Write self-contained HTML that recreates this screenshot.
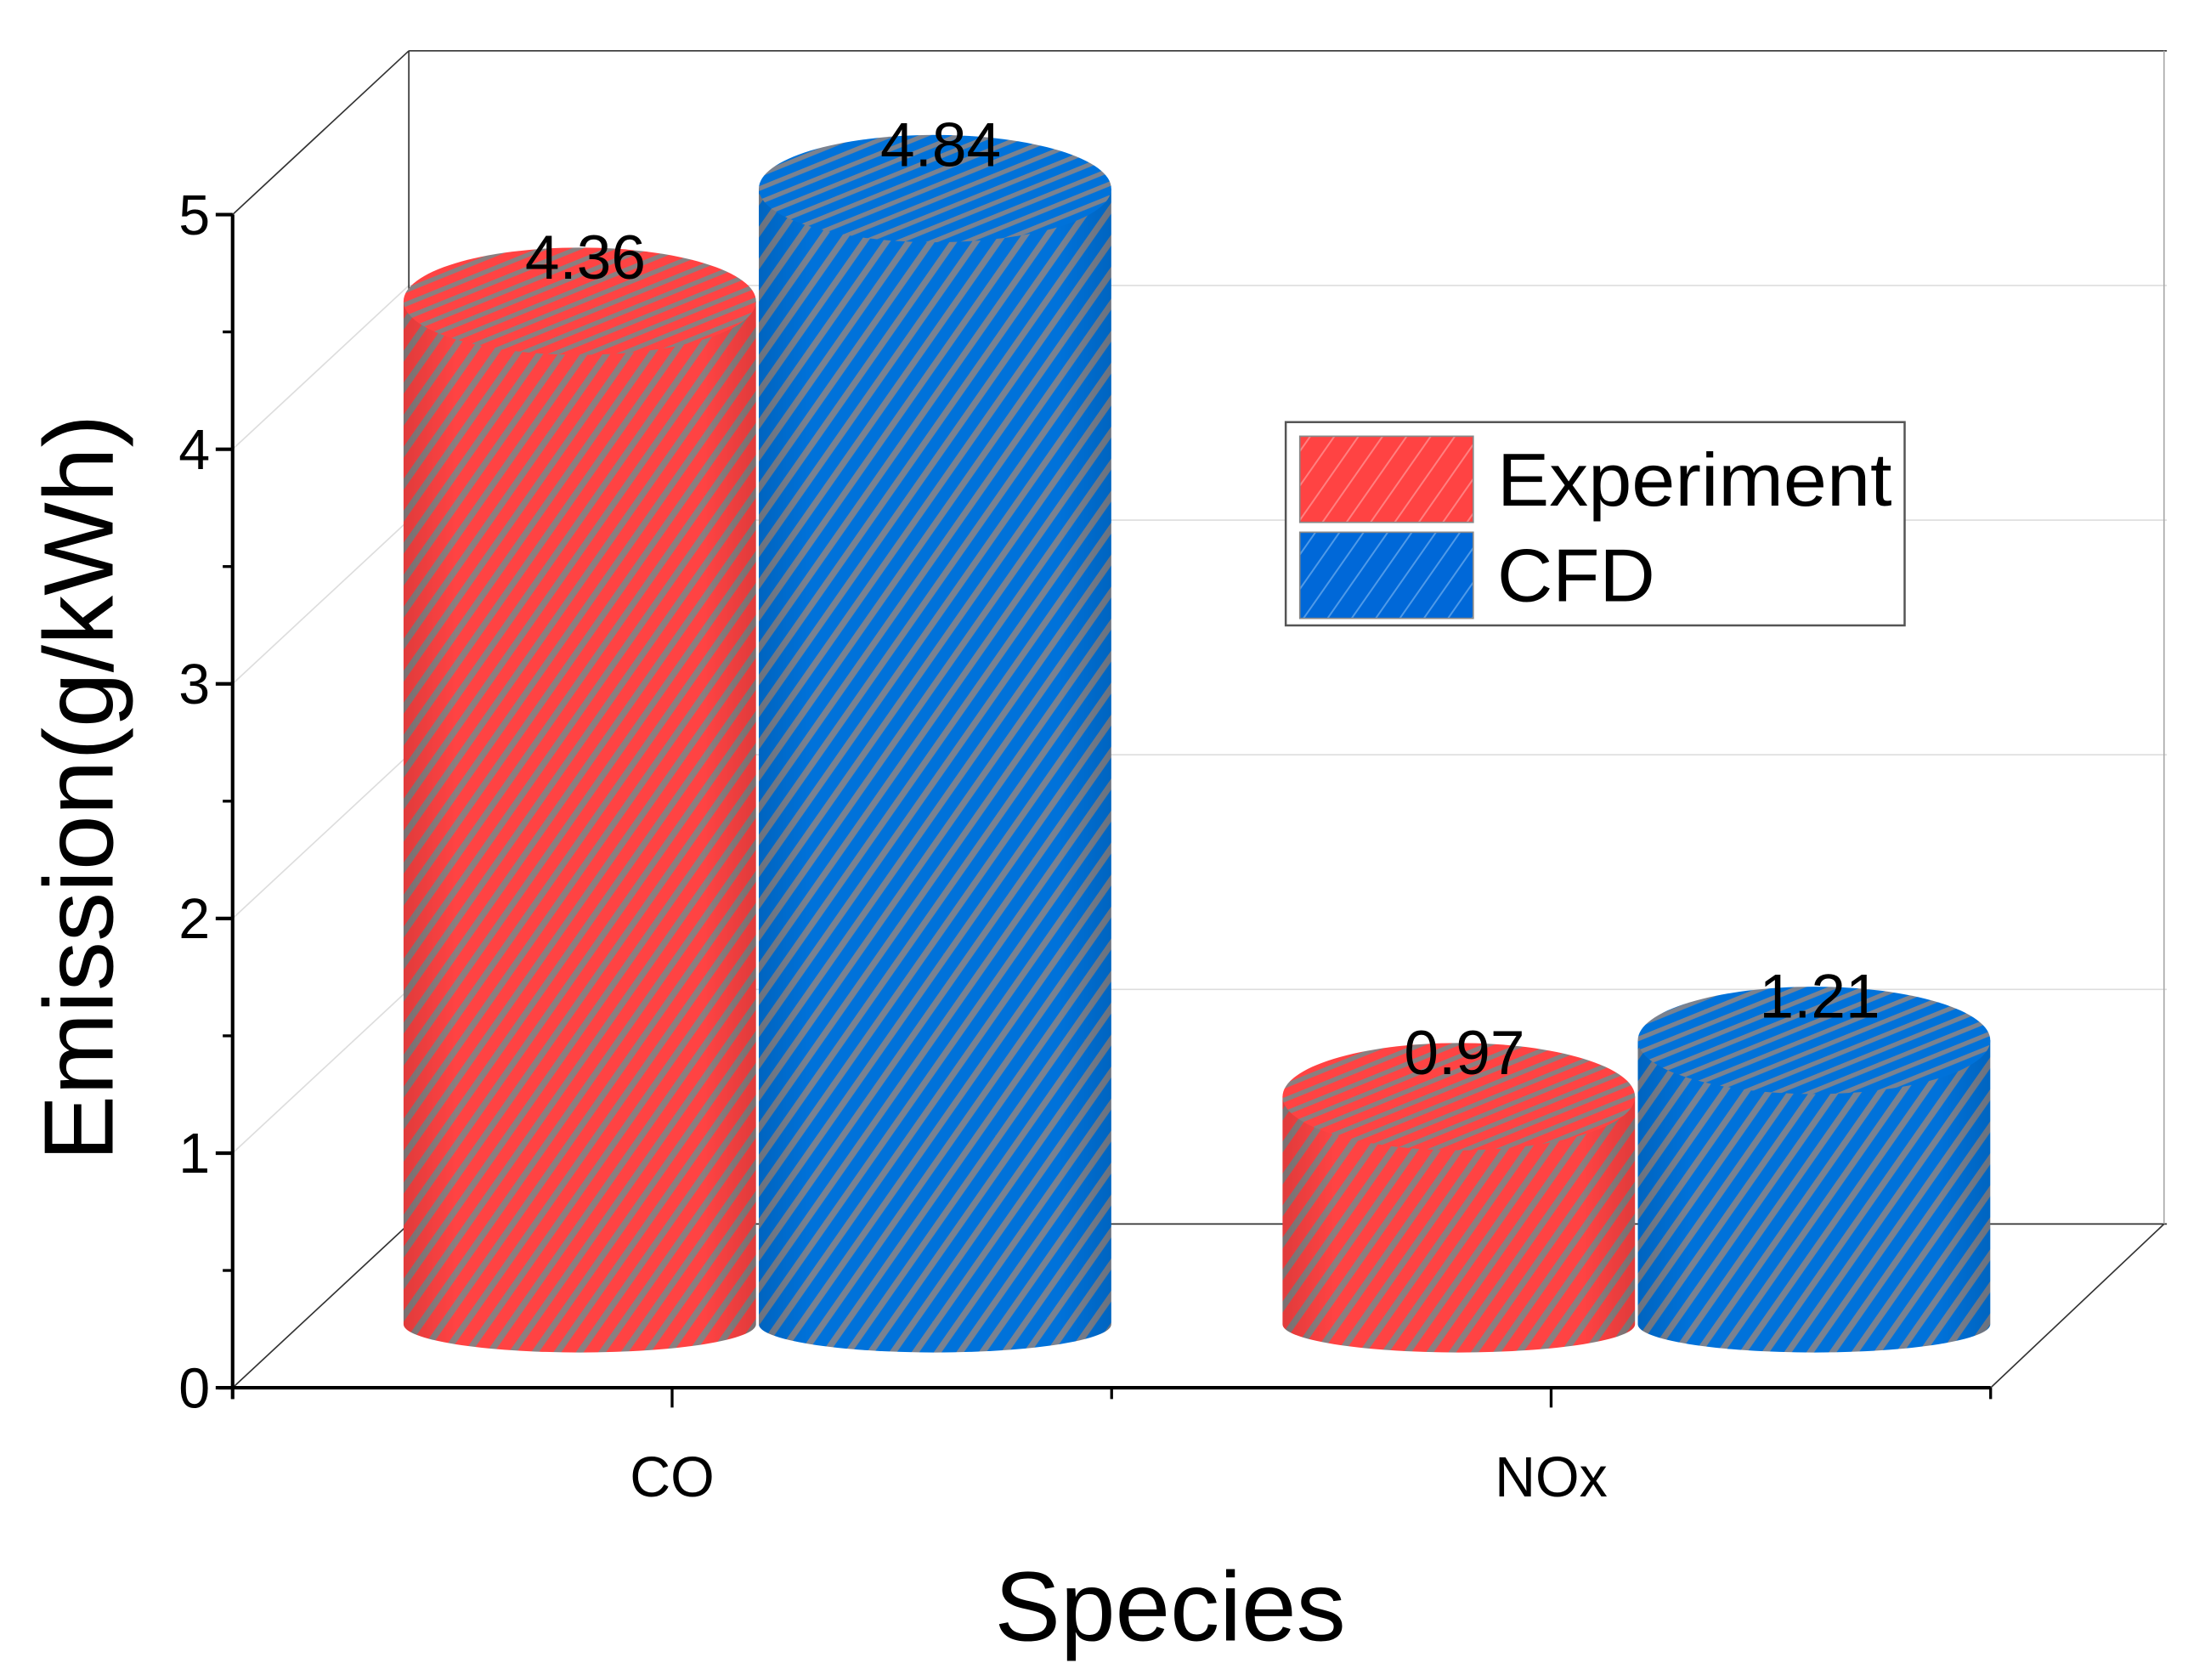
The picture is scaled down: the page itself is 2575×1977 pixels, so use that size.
<!DOCTYPE html>
<html><head><meta charset="utf-8">
<style>html,body{margin:0;padding:0;background:#fff;}svg{display:block;}</style>
</head><body>
<svg id="chart" width="2575" height="1977" viewBox="0 0 1552 1190" preserveAspectRatio="none" xmlns="http://www.w3.org/2000/svg" font-family="'Liberation Sans', sans-serif">
<defs>
  <pattern id="sideRed" patternUnits="userSpaceOnUse" width="13" height="13" patternTransform="rotate(35)">
    <rect width="13" height="13" fill="#ff4343"/><rect width="4.5" height="13" fill="#8a7f80"/>
  </pattern>
  <pattern id="sideBlue" patternUnits="userSpaceOnUse" width="13" height="13" patternTransform="rotate(35)">
    <rect width="13" height="13" fill="#0072da"/><rect width="4.5" height="13" fill="#7a8290"/>
  </pattern>
  <pattern id="topRed" patternUnits="userSpaceOnUse" width="9" height="9" patternTransform="rotate(68)">
    <rect width="9" height="9" fill="#ff4343"/><rect width="3.2" height="9" fill="#8a7f80"/>
  </pattern>
  <pattern id="topBlue" patternUnits="userSpaceOnUse" width="9" height="9" patternTransform="rotate(68)">
    <rect width="9" height="9" fill="#0072da"/><rect width="3.2" height="9" fill="#7a8290"/>
  </pattern>
  <pattern id="legRed" patternUnits="userSpaceOnUse" width="14" height="14" patternTransform="rotate(35)">
    <rect width="14" height="14" fill="#ff4343"/><rect width="1.2" height="14" fill="#ff8080"/>
  </pattern>
  <pattern id="legBlue" patternUnits="userSpaceOnUse" width="14" height="14" patternTransform="rotate(35)">
    <rect width="14" height="14" fill="#0068d8"/><rect width="1.2" height="14" fill="#4f9ae8"/>
  </pattern>
  <linearGradient id="shade" x1="0" x2="1" y1="0" y2="0">
    <stop offset="0" stop-color="#000" stop-opacity="0.12"/>
    <stop offset="0.15" stop-color="#000" stop-opacity="0"/>
    <stop offset="0.85" stop-color="#000" stop-opacity="0"/>
    <stop offset="1" stop-color="#000" stop-opacity="0.12"/>
  </linearGradient>
</defs>
<g id="frame"></g>
<g id="bars"></g>
<g id="labels"></g>
</svg>
<script>
const categories = ["CO", "NOx"];
const seriesNames = ["Experiment", "CFD"];
const experiment = [4.36, 0.97];
const cfd = [4.84, 1.21];
const yTicks = [0, 1, 2, 3, 4, 5];

const NS = "http://www.w3.org/2000/svg";
const X0 = 165, X1 = 1412, Y0 = 983, UNIT = 166.2, DX = 125, DY = -116;
const BASE = 938;
function yScale(v) { return Y0 - v * UNIT; }
function barBase(v) { return BASE - v * UNIT; }
function xCat(i) { return X0 + (X1 - X0) * (2 * i + 1) / 4; }
function mk(tag, attrs, parent) {
  const e = document.createElementNS(NS, tag);
  for (const k in attrs) e.setAttribute(k, attrs[k]);
  parent.appendChild(e);
  return e;
}
const frame = document.getElementById("frame");
const bars = document.getElementById("bars");
const labels = document.getElementById("labels");

yTicks.forEach(function (t) {
  const y = yScale(t) + DY;
  const edge = (t === 0 || t === 5);
  const g = mk("line", {x1: X0 + DX, y1: y, x2: X1 + DX, y2: y, stroke: edge ? "#333" : "#ddd", "stroke-width": 1}, frame);
  
  
  const d = mk("line", {x1: X0, y1: yScale(t), x2: X0 + DX, y2: y, stroke: edge ? "#333" : "#ddd", "stroke-width": 1}, frame);
  
  
});
const backL = mk("line", {x1: X0 + DX, y1: yScale(0) + DY, x2: X0 + DX, y2: yScale(5) + DY, stroke: "#333", "stroke-width": 1}, frame);


const backR = mk("line", {x1: X1 + DX - 2, y1: yScale(0) + DY, x2: X1 + DX - 2, y2: yScale(5) + DY, stroke: "#aaa", "stroke-width": 1}, frame);


const floorR = mk("line", {x1: X1, y1: Y0, x2: X1 + DX - 2, y2: Y0 + DY, stroke: "#333", "stroke-width": 1}, frame);



const yAxis = mk("line", {x1: X0, y1: Y0 + 8, x2: X0, y2: yScale(5), stroke: "#000", "stroke-width": 2.5}, frame);


const xAxis = mk("line", {x1: X0 - 10, y1: Y0, x2: X1, y2: Y0, stroke: "#000", "stroke-width": 2.5}, frame);


yTicks.forEach(function (t) {
  const tk = mk("line", {x1: X0 - 12, y1: yScale(t), x2: X0, y2: yScale(t), stroke: "#000", "stroke-width": 2.5}, frame);
  
  
  if (t < 5) {
    const mt = mk("line", {x1: X0 - 7, y1: yScale(t + 0.5), x2: X0, y2: yScale(t + 0.5), stroke: "#000", "stroke-width": 2}, frame);
    
    
  }
  const lb = mk("text", {x: X0 - 16, y: yScale(t) + 14, "text-anchor": "end", "font-size": 40}, labels);
  lb.textContent = String(t);
  
  
});
for (let k = 0; k <= 4; k++) {
  const x = X0 + (X1 - X0) * k / 4;
  const tk = mk("line", {x1: x, y1: Y0, x2: x, y2: Y0 + (k % 2 ? 14 : 8), stroke: "#000", "stroke-width": 2}, frame);
  
  
}
categories.forEach(function (c, i) {
  const lb = mk("text", {x: xCat(i), y: 1060, "text-anchor": "middle", "font-size": 40}, labels);
  lb.textContent = c;
  
  
});

const RX = 125, RYT = 38, RYB = 20;
const series = [experiment, cfd];
const sideFill = ["url(#sideRed)", "url(#sideBlue)"];
const topFill = ["url(#topRed)", "url(#topBlue)"];
categories.forEach(function (c, i) {
  const center = xCat(i) + DX / 2;
  series.forEach(function (vals, s) {
    const cx = center + (s === 0 ? -128 : 124);
    const yb = BASE, yt = barBase(vals[i]);
    const g = mk("g", {}, bars);
    
    
    const d = "M" + (cx - RX) + "," + yt + " L" + (cx - RX) + "," + yb +
      " A" + RX + "," + RYB + " 0 0 0 " + (cx + RX) + "," + yb +
      " L" + (cx + RX) + "," + yt + " Z";
    mk("path", {d: d, fill: sideFill[s]}, g);
    mk("path", {d: d, fill: "url(#shade)"}, g);
    mk("ellipse", {cx: cx, cy: yt, rx: RX, ry: RYT, fill: topFill[s]}, g);
    const vl = mk("text", {x: cx + 4, y: yt - 16, "text-anchor": "middle", "font-size": 44}, labels);
    vl.textContent = vals[i].toFixed(2);
    
    
  });
});

const yt = mk("text", {x: 0, y: 0, transform: "translate(80,558) rotate(-90)", "text-anchor": "middle", "font-size": 70}, labels);
yt.textContent = "Emission(g/kWh)";


const xt = mk("text", {x: 830, y: 1162, "text-anchor": "middle", "font-size": 70}, labels);
xt.textContent = "Species";



const lg = mk("g", {}, labels);


mk("rect", {x: 912, y: 299, width: 439, height: 144, fill: "#fff", stroke: "#555", "stroke-width": 1.5}, lg);
const legFill = ["url(#legRed)", "url(#legBlue)"];
seriesNames.forEach(function (n, s) {
  const e = mk("g", {}, lg);
  
  
  mk("rect", {x: 922, y: 309 + s * 68, width: 123, height: 61, fill: legFill[s], stroke: "#888", "stroke-width": 1}, e);
  const t = mk("text", {x: 1062, y: 358 + s * 68, "font-size": 53, textLength: s === 0 ? 280 : 112, lengthAdjust: "spacingAndGlyphs"}, e);
  t.textContent = n;
});
</script>
</body></html>
